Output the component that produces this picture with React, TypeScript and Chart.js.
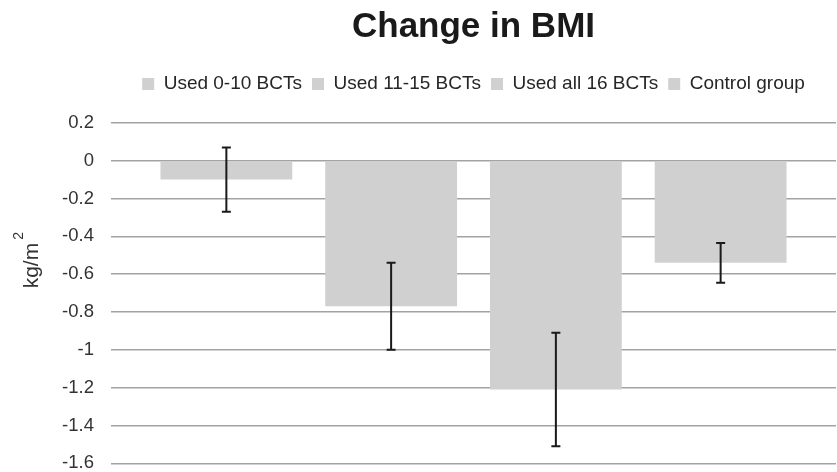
import React, { useEffect, useRef } from "react";
import { Chart, registerables } from "chart.js";

Chart.register(...registerables);

const categories = ["Change in BMI"];
const seriesNames = ["Used 0-10 BCTs", "Used 11-15 BCTs", "Used all 16 BCTs", "Control group"];
const seriesValues = [-0.1, -0.77, -1.21, -0.54];
const errorValues = [0.17, 0.23, 0.3, 0.105];
const yMin = -1.6;
const yMax = 0.2;
const yStep = 0.2;
const titleText = "Change in BMI";
const yTitleMain = "kg/m";
const yTitleSup = "2";

const FONT = "'Liberation Sans', Arial, Helvetica, sans-serif";
const BAR_COLOR = "#d0d0d0";

const errorBarPlugin = {
  id: "errorBars",
  afterDatasetsDraw(chart: any) {
    const ctx = chart.ctx;
    const yScale = chart.scales.y;
    ctx.save();
    ctx.strokeStyle = "#1a1a1a";
    ctx.lineWidth = 2;
    chart.data.datasets.forEach((ds: any, i: number) => {
      const meta = chart.getDatasetMeta(i);
      const el = meta.data[0];
      if (!el) return;
      const v = seriesValues[i];
      const e = errorValues[i];
      const x = el.x;
      const yt = yScale.getPixelForValue(v + e);
      const yb = yScale.getPixelForValue(v - e);
      const cap = 4.5;
      ctx.beginPath();
      ctx.moveTo(x, yt);
      ctx.lineTo(x, yb);
      ctx.moveTo(x - cap, yt);
      ctx.lineTo(x + cap, yt);
      ctx.moveTo(x - cap, yb);
      ctx.lineTo(x + cap, yb);
      ctx.stroke();
    });
    ctx.restore();
  },
};

const yTitlePlugin = {
  id: "yTitle",
  afterDraw(chart: any) {
    const ctx = chart.ctx;
    const area = chart.chartArea;
    const mid = (area.top + area.bottom) / 2;
    ctx.save();
    ctx.translate(area.left - 73.5, mid - 4.7);
    ctx.rotate(-Math.PI / 2);
    ctx.fillStyle = "#333333";
    ctx.textBaseline = "alphabetic";
    ctx.textAlign = "left";
    ctx.font = `21px ${FONT}`;
    ctx.fillText(yTitleMain, 0, 0);
    const w = ctx.measureText(yTitleMain).width;
    ctx.font = `14px ${FONT}`;
    ctx.fillText(yTitleSup, w + 3, -14.5);
    ctx.restore();
  },
};

export default function App() {
  const canvasRef = useRef<HTMLCanvasElement | null>(null);

  useEffect(() => {
    document.body.style.margin = "0";
    const canvas = canvasRef.current;
    if (!canvas) return;
    const chart = new Chart(canvas, {
      type: "bar",
      data: {
        labels: categories,
        datasets: seriesNames.map((name, i) => ({
          label: name,
          data: [seriesValues[i]],
          backgroundColor: BAR_COLOR,
          borderWidth: 0,
          categoryPercentage: 0.909,
          barPercentage: 0.8,
        })),
      },
      options: {
        responsive: false,
        animation: false,
        devicePixelRatio: 1,
        layout: { padding: { top: 0, bottom: 8.7, left: 0, right: 1 } },
        plugins: {
          title: {
            display: true,
            text: titleText,
            fullSize: false,
            color: "#1a1a1a",
            font: { family: FONT, size: 35, weight: "bold" },
            padding: { top: 6.4, bottom: 16.1 },
          },
          legend: {
            display: true,
            position: "top",
            fullSize: false,
            labels: {
              boxWidth: 12,
              boxHeight: 12,
              padding: 10,
              color: "#262626",
              font: { family: FONT, size: 19 },
            },
          },
          subtitle: {
            display: true,
            text: "",
            fullSize: false,
            weight: 100,
            font: { family: FONT, size: 1 },
            padding: { top: 0, bottom: 18.1 },
          },
          tooltip: { enabled: false },
        },
        scales: {
          x: {
            type: "category",
            display: false,
          },
          y: {
            min: yMin,
            max: yMax,
            border: { display: false },
            grid: {
              color: "#a3a3a3",
              lineWidth: 1.5,
              drawTicks: false,
            },
            ticks: {
              stepSize: yStep,
              padding: 17,
              color: "#333333",
              font: { family: FONT, size: 18.5 },
              callback: (v: any) => String(Math.round(Number(v) * 10) / 10),
            },
            afterFit: (scale: any) => {
              scale.width = 111;
              scale.paddingTop = 0;
              scale.paddingBottom = 0;
            },
          },
        },
      },
      plugins: [errorBarPlugin, yTitlePlugin],
    });
    return () => chart.destroy();
  }, []);

  return (
    <div style={{ position: "absolute", left: 0, top: 0, width: 837, height: 472 }}>
      <canvas ref={canvasRef} width={837} height={472} />
    </div>
  );
}
